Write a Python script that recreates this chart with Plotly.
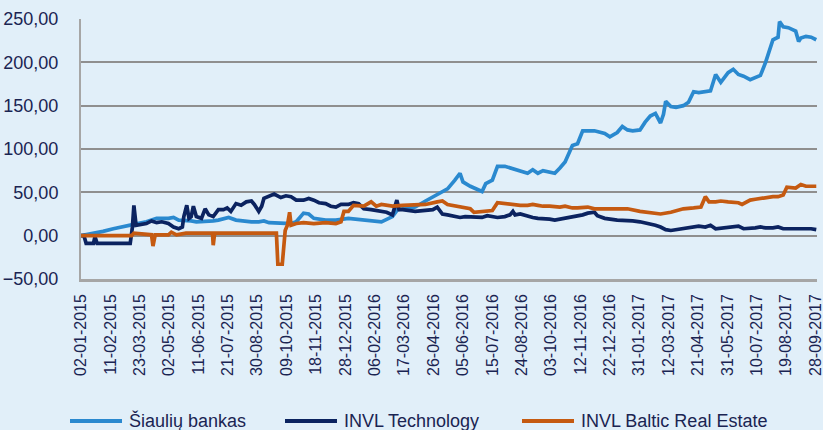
import plotly.graph_objects as go

# ---- Data: (date, value) ----
sb_points = [
    ("2015-01-02", 0), ("2015-01-15", 2), ("2015-02-01", 5), ("2015-02-15", 8), ("2015-03-01", 10),
    ("2015-03-15", 13), ("2015-04-01", 16), ("2015-04-15", 20), ("2015-05-01", 20), ("2015-05-08", 21),
    ("2015-05-15", 18), ("2015-05-22", 18), ("2015-06-01", 17), ("2015-06-08", 16), ("2015-06-15", 16),
    ("2015-06-22", 17), ("2015-07-01", 17), ("2015-07-08", 18), ("2015-07-15", 19), ("2015-07-22", 21),
    ("2015-08-01", 18), ("2015-08-08", 17), ("2015-08-15", 17), ("2015-08-22", 16), ("2015-09-01", 16),
    ("2015-09-08", 17), ("2015-09-15", 15), ("2015-09-22", 15), ("2015-10-01", 14), ("2015-10-15", 14),
    ("2015-10-22", 16), ("2015-11-01", 26), ("2015-11-08", 25), ("2015-11-15", 20), ("2015-12-01", 18),
    ("2015-12-15", 18), ("2016-01-01", 20), ("2016-01-15", 19), ("2016-02-01", 17), ("2016-02-15", 16),
    ("2016-03-01", 22), ("2016-03-08", 30), ("2016-03-15", 31), ("2016-04-01", 33), ("2016-04-15", 40),
    ("2016-05-01", 47), ("2016-05-15", 54), ("2016-05-25", 64), ("2016-06-01", 72), ("2016-06-05", 62),
    ("2016-06-15", 57), ("2016-07-01", 51), ("2016-07-06", 60), ("2016-07-15", 64), ("2016-07-22", 80),
    ("2016-08-01", 80), ("2016-08-08", 78), ("2016-08-15", 76), ("2016-08-22", 74), ("2016-09-01", 72),
    ("2016-09-08", 76), ("2016-09-15", 72), ("2016-09-22", 75), ("2016-10-01", 73), ("2016-10-08", 72),
    ("2016-10-15", 78), ("2016-10-22", 85), ("2016-11-01", 104), ("2016-11-08", 106), ("2016-11-15", 121),
    ("2016-12-01", 121), ("2016-12-15", 118), ("2016-12-22", 114), ("2017-01-01", 119), ("2017-01-08", 126),
    ("2017-01-15", 122), ("2017-01-22", 121), ("2017-02-01", 122), ("2017-02-08", 131), ("2017-02-15", 138),
    ("2017-02-22", 141), ("2017-03-01", 130), ("2017-03-05", 140), ("2017-03-08", 155), ("2017-03-15", 149),
    ("2017-03-22", 148), ("2017-04-01", 150), ("2017-04-08", 154), ("2017-04-15", 166), ("2017-04-22", 165),
    ("2017-05-01", 166), ("2017-05-08", 167), ("2017-05-15", 186), ("2017-05-22", 177), ("2017-06-01", 188),
    ("2017-06-08", 192), ("2017-06-15", 186), ("2017-06-22", 184), ("2017-07-01", 180), ("2017-07-08", 183),
    ("2017-07-15", 185), ("2017-07-22", 200), ("2017-08-01", 226), ("2017-08-08", 229), ("2017-08-10", 247),
    ("2017-08-15", 241), ("2017-08-22", 240), ("2017-09-01", 236), ("2017-09-05", 224), ("2017-09-08", 228),
    ("2017-09-15", 230), ("2017-09-22", 229), ("2017-09-29", 226),
]

it_points = [
    ("2015-01-02", 0), ("2015-01-06", 0), ("2015-01-09", -9), ("2015-01-15", -9), ("2015-01-19", -9),
    ("2015-01-21", -1), ("2015-01-24", -9), ("2015-02-01", -9), ("2015-03-01", -9), ("2015-03-10", -9),
    ("2015-03-13", 10), ("2015-03-15", 35), ("2015-03-18", 12), ("2015-04-01", 14), ("2015-04-08", 17),
    ("2015-04-15", 15), ("2015-04-22", 16), ("2015-05-01", 14), ("2015-05-08", 10), ("2015-05-15", 8),
    ("2015-05-20", 10), ("2015-05-22", 22), ("2015-05-26", 35), ("2015-05-29", 20), ("2015-06-01", 22),
    ("2015-06-04", 34), ("2015-06-08", 22), ("2015-06-15", 20), ("2015-06-20", 31), ("2015-06-25", 24),
    ("2015-07-01", 22), ("2015-07-08", 30), ("2015-07-15", 30), ("2015-07-20", 32), ("2015-07-25", 28),
    ("2015-08-01", 37), ("2015-08-08", 35), ("2015-08-15", 39), ("2015-08-22", 40), ("2015-08-26", 36),
    ("2015-09-01", 28), ("2015-09-05", 34), ("2015-09-08", 43), ("2015-09-15", 45), ("2015-09-22", 48),
    ("2015-10-01", 44), ("2015-10-08", 46), ("2015-10-15", 45), ("2015-10-22", 41), ("2015-11-01", 41),
    ("2015-11-08", 43), ("2015-11-15", 41), ("2015-11-22", 38), ("2015-12-01", 37), ("2015-12-08", 34),
    ("2015-12-15", 33), ("2015-12-22", 36), ("2016-01-01", 36), ("2016-01-08", 38), ("2016-01-15", 37),
    ("2016-01-22", 31), ("2016-02-01", 30), ("2016-02-15", 28), ("2016-02-22", 27), ("2016-03-01", 24),
    ("2016-03-04", 32), ("2016-03-07", 41), ("2016-03-10", 30), ("2016-03-15", 30), ("2016-04-01", 28),
    ("2016-04-15", 29), ("2016-04-25", 30), ("2016-05-01", 33), ("2016-05-08", 25), ("2016-05-15", 24),
    ("2016-06-01", 21), ("2016-06-08", 22), ("2016-06-15", 22), ("2016-06-22", 21), ("2016-07-01", 21),
    ("2016-07-08", 23), ("2016-07-15", 22), ("2016-07-22", 21), ("2016-08-01", 22), ("2016-08-08", 24),
    ("2016-08-12", 28), ("2016-08-15", 24), ("2016-08-22", 25), ("2016-09-01", 22), ("2016-09-08", 21),
    ("2016-09-15", 20), ("2016-09-22", 20), ("2016-10-01", 19), ("2016-10-08", 18), ("2016-10-15", 19),
    ("2016-10-22", 20), ("2016-11-01", 21), ("2016-11-08", 22), ("2016-11-15", 24), ("2016-11-22", 26),
    ("2016-12-01", 27), ("2016-12-05", 23), ("2016-12-15", 20), ("2017-01-01", 18), ("2017-01-08", 18),
    ("2017-01-15", 17), ("2017-01-22", 17), ("2017-02-01", 16), ("2017-02-08", 15), ("2017-02-15", 13),
    ("2017-02-22", 12), ("2017-03-01", 10), ("2017-03-08", 7), ("2017-03-15", 6), ("2017-03-22", 7),
    ("2017-04-01", 8), ("2017-04-08", 9), ("2017-04-15", 11), ("2017-04-22", 11), ("2017-05-01", 10),
    ("2017-05-08", 12), ("2017-05-15", 8), ("2017-06-01", 10), ("2017-06-15", 11), ("2017-06-22", 8),
    ("2017-07-01", 8), ("2017-07-08", 9), ("2017-07-15", 10), ("2017-07-22", 9), ("2017-08-01", 9),
    ("2017-08-08", 10), ("2017-08-15", 8), ("2017-08-22", 8), ("2017-09-01", 8), ("2017-09-08", 9),
    ("2017-09-15", 8), ("2017-09-22", 8), ("2017-09-29", 7),
]

bre_points = [
    ("2015-01-02", 0), ("2015-03-12", 0), ("2015-03-15", 3), ("2015-04-01", 1), ("2015-04-08", 1),
    ("2015-04-10", -12), ("2015-04-13", 1), ("2015-05-01", 1), ("2015-05-05", 4), ("2015-05-12", 1),
    ("2015-05-25", 3), ("2015-06-15", 3), ("2015-06-30", 3), ("2015-07-01", -11), ("2015-07-03", 3),
    ("2015-08-01", 3), ("2015-09-01", 3), ("2015-09-25", 3), ("2015-09-27", -33), ("2015-10-03", -33),
    ("2015-10-07", 6), ("2015-10-10", 12), ("2015-10-13", 27), ("2015-10-15", 12), ("2015-10-22", 14),
    ("2015-11-01", 15), ("2015-11-15", 14), ("2015-12-01", 15), ("2015-12-15", 14), ("2015-12-22", 16),
    ("2015-12-26", 28), ("2016-01-01", 28), ("2016-01-08", 35), ("2016-01-15", 35), ("2016-01-22", 34),
    ("2016-02-01", 39), ("2016-02-08", 34), ("2016-02-15", 36), ("2016-03-01", 34), ("2016-03-15", 35),
    ("2016-04-01", 35), ("2016-04-15", 36), ("2016-05-01", 39), ("2016-05-08", 40), ("2016-05-15", 36),
    ("2016-06-01", 33), ("2016-06-15", 31), ("2016-06-20", 27), ("2016-07-01", 28), ("2016-07-15", 29),
    ("2016-07-22", 38), ("2016-08-01", 37), ("2016-08-08", 37), ("2016-08-15", 36), ("2016-08-22", 35),
    ("2016-09-01", 35), ("2016-09-08", 36), ("2016-09-15", 35), ("2016-09-22", 34), ("2016-10-01", 34),
    ("2016-10-08", 33), ("2016-10-15", 33), ("2016-10-22", 34), ("2016-11-01", 32), ("2016-11-08", 32),
    ("2016-11-15", 32), ("2016-11-22", 33), ("2016-12-01", 31), ("2016-12-08", 31), ("2016-12-15", 30),
    ("2016-12-22", 31), ("2017-01-01", 30), ("2017-01-15", 31), ("2017-02-01", 28), ("2017-02-15", 26),
    ("2017-03-01", 25), ("2017-03-15", 27), ("2017-04-01", 31), ("2017-04-15", 32), ("2017-04-25", 33),
    ("2017-05-01", 45), ("2017-05-06", 39), ("2017-05-15", 39), ("2017-05-22", 40), ("2017-06-01", 39),
    ("2017-06-08", 39), ("2017-06-15", 38), ("2017-06-20", 36), ("2017-07-01", 41), ("2017-07-08", 42),
    ("2017-07-15", 43), ("2017-07-22", 43), ("2017-08-01", 45), ("2017-08-08", 45), ("2017-08-15", 47),
    ("2017-08-20", 56), ("2017-09-01", 55), ("2017-09-08", 59), ("2017-09-15", 57), ("2017-09-29", 57),
]

series_names = ["Šiaulių bankas", "INVL Technology", "INVL Baltic Real Estate"]
series_colors = ["#2A89CF", "#0B2360", "#C55A11"]

x_start = "2015-01-02"
x_end = "2017-09-30"
y_min, y_max, y_step = -50, 250, 50

BG = "#E1EFF9"
TXT = "#1A2452"

W, H = 823, 430
ML, MR, MT, MB = 81, 6, 19, 151
PW, PH = W - ML - MR, H - MT - MB

fig = go.Figure()
for name, pts, c in zip(series_names, [sb_points, it_points, bre_points], series_colors):
    fig.add_trace(go.Scatter(x=[p[0] for p in pts], y=[p[1] for p in pts], mode="lines",
                             name=name, showlegend=False,
                             line=dict(color=c, width=3.7)))

# Legend drawn at the bottom (line sample + label), positions in pixels
legend_line_px = [(70, 122), (285, 337), (522, 574)]
legend_text_px = [127, 342, 579]
legend_y_px = 421
def px_x(px):
    return (px - ML) / PW
def px_y(py):
    return (H - MB - py) / PH

for name, c, (a, b), tx in zip(series_names, series_colors, legend_line_px, legend_text_px):
    fig.add_shape(type="line", xref="paper", yref="paper",
                  x0=px_x(a), x1=px_x(b), y0=px_y(legend_y_px), y1=px_y(legend_y_px),
                  line=dict(color=c, width=4))
    fig.add_annotation(xref="paper", yref="paper", x=px_x(tx), y=px_y(legend_y_px),
                       xanchor="left", yanchor="middle", showarrow=False, text=name,
                       font=dict(size=18, color=TXT))

fig.update_layout(
    width=W, height=H, autosize=False,
    paper_bgcolor=BG, plot_bgcolor=BG,
    margin=dict(l=ML, r=MR, t=MT, b=MB, pad=0),
    separators=", ",
    font=dict(family="Liberation Sans, Arial, sans-serif", color=TXT),
    showlegend=False,
)
fig.update_xaxes(
    type="date", range=[x_start, x_end], automargin=False,
    tick0=x_start, dtick=40 * 86400000, tickformat="%d-%m-%Y",
    tickangle=-90, tickfont=dict(size=16, color=TXT),
    showgrid=False, zeroline=False,
    showline=True, linecolor="#A6A6A6", linewidth=2.5,
    ticks="", ticklabelstandoff=6, ticklabeloverflow="allow",
)
fig.update_yaxes(
    range=[y_min, y_max], dtick=y_step, tick0=0, tickformat=".2f", automargin=False,
    tickfont=dict(size=18, color=TXT),
    showgrid=True, gridcolor="#8F8F8F", gridwidth=1.5,
    zeroline=False,
    showline=True, linecolor="#A6A6A6", linewidth=2,
    ticks="", ticklabelstandoff=17,
)

fig.write_html("out.html", config={"displayModeBar": False},
               post_script="document.body.style.margin='0';document.body.style.padding='0';document.body.style.overflow='hidden';")
